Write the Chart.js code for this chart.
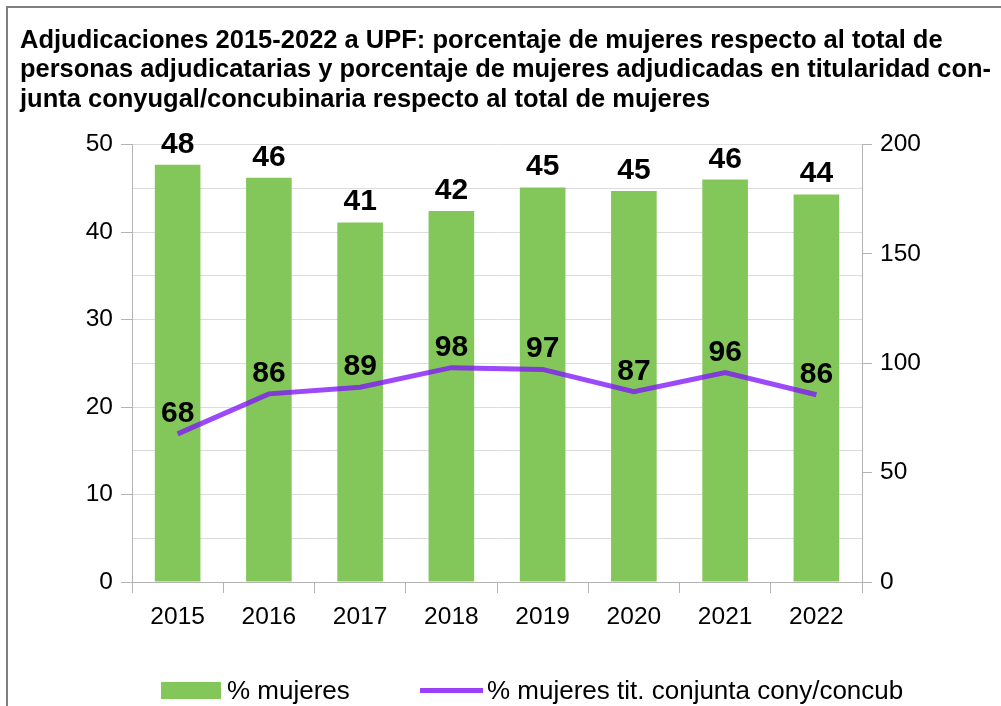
<!DOCTYPE html>
<html>
<head>
<meta charset="utf-8">
<script src="https://cdn.jsdelivr.net/npm/chart.js@4.4.1/dist/chart.umd.min.js"></script>
<style>
  body { margin: 0; background: #fff; font-family: "Liberation Sans", Arial, sans-serif; }
  #wrap { position: relative; width: 1001px; height: 706px; overflow: hidden; }
  #frame { position: absolute; left: 6px; top: 6px; width: 1100px; height: 800px;
           border-left: 2px solid #7f7f7f; border-top: 2px solid #7f7f7f; }
  canvas { position: absolute; left: 0; top: 0; }
  .ley { position: absolute; font-size: 26px; line-height: 26px; color: #000; white-space: nowrap; }
  .sw-bar { position: absolute; left: 161px; top: 682px; width: 60px; height: 17px; background: #83c75a; }
  .sw-line { position: absolute; left: 420px; top: 688px; width: 63px; height: 5px; background: #9b40f7; }
</style>
</head>
<body>
<div id="wrap">
  <div id="frame"></div>
  <canvas id="grafico" width="1001" height="706"></canvas>
  <div class="sw-bar"></div>
  <div class="ley" style="left:227px; top:677px;">% mujeres</div>
  <div class="sw-line"></div>
  <div class="ley" style="left:487px; top:677px;">% mujeres tit. conjunta cony/concub</div>
</div>
<script>
// datos
const anios = ['2015', '2016', '2017', '2018', '2019', '2020', '2021', '2022'];
const pctMujeres = [47.7, 46.2, 41.1, 42.4, 45.1, 44.7, 46.0, 44.3];
const pctConjunta = [67.7, 86.0, 89.0, 98.0, 97.2, 87.0, 95.7, 85.6];
const tituloLineas = [
  'Adjudicaciones 2015-2022 a UPF: porcentaje de mujeres respecto al total de',
  'personas adjudicatarias y porcentaje de mujeres adjudicadas en titularidad con-',
  'junta conyugal/concubinaria respecto al total de mujeres'
];

const FUENTE = '"Liberation Sans", Arial, sans-serif';

// etiquetas de valores encima de barras y puntos
const etiquetas = {
  id: 'etiquetas',
  afterDatasetsDraw(chart) {
    const ctx = chart.ctx;
    ctx.save();
    ctx.font = 'bold 30px ' + FUENTE;
    ctx.fillStyle = '#000';
    ctx.textAlign = 'center';
    ctx.textBaseline = 'alphabetic';
    chart.data.datasets.forEach((ds, i) => {
      const meta = chart.getDatasetMeta(i);
      meta.data.forEach((el, j) => {
        ctx.fillText(Math.round(ds.data[j]), el.x, el.y - 12);
      });
    });
    ctx.restore();
  }
};

function initChart() {
  const ctx = document.getElementById('grafico').getContext('2d');
  new Chart(ctx, {
    data: {
      labels: anios,
      datasets: [
        {
          type: 'line',
          label: '% mujeres tit. conjunta cony/concub',
          data: pctConjunta,
          yAxisID: 'y2',
          borderColor: 'rgba(128, 20, 250, 0.78)',
          borderWidth: 5,
          pointRadius: 0,
          tension: 0,
          order: 0
        },
        {
          type: 'bar',
          label: '% mujeres',
          data: pctMujeres,
          yAxisID: 'y',
          backgroundColor: '#83c75a',
          categoryPercentage: 1,
          barPercentage: 0.5,
          order: 1
        }
      ]
    },
    options: {
      responsive: false,
      animation: false,
      layout: { padding: { left: 20, right: 10, top: 0, bottom: 74 } },
      plugins: {
        legend: { display: false },
        tooltip: { enabled: false },
        title: {
          display: true,
          text: tituloLineas,
          align: 'start',
          color: '#000',
          font: { family: FUENTE, size: 25.5, weight: 'bold', lineHeight: 1.157 },
          padding: { top: 26, bottom: 30 }
        }
      },
      scales: {
        x: {
          offset: true,
          grid: { offset: true, drawOnChartArea: false, tickLength: 11, color: '#b3b3b3' },
          border: { color: '#b3b3b3' },
          ticks: { color: '#000', font: { family: FUENTE, size: 24.5 }, padding: 10 },
          afterFit(s) { s.height = 50; }
        },
        y: {
          position: 'left',
          min: 0, max: 50,
          ticks: {
            stepSize: 5,
            color: '#000',
            font: { family: FUENTE, size: 24.5 },
            padding: 8,
            callback: v => (v % 10 === 0 ? v : '')
          },
          grid: {
            color: '#dcdcdc',
            tickLength: 11,
            tickColor: c => (c.tick && c.tick.value % 10 === 0 ? '#b3b3b3' : 'rgba(0,0,0,0)')
          },
          border: { color: '#b3b3b3' },
          afterFit(s) { s.width = 112; }
        },
        y2: {
          position: 'right',
          min: 0, max: 200,
          ticks: { stepSize: 50, color: '#000', font: { family: FUENTE, size: 24.5 }, padding: 8 },
          grid: { drawOnChartArea: false, tickLength: 10, color: '#b3b3b3' },
          border: { color: '#b3b3b3' },
          afterFit(s) { s.width = 129; }
        }
      }
    },
    plugins: [etiquetas]
  });
}

document.addEventListener('DOMContentLoaded', initChart);
</script>
</body>
</html>
